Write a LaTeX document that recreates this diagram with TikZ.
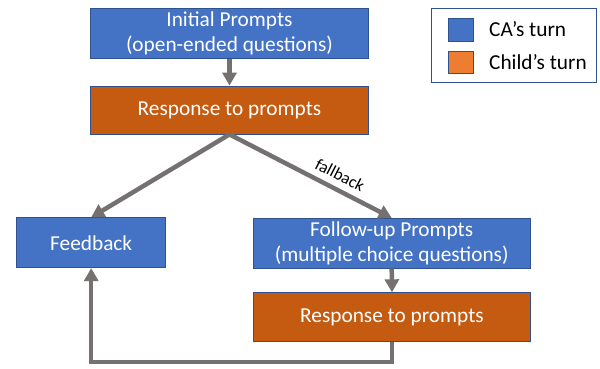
\documentclass[tikz,border=0pt]{standalone}
\usepackage{fontspec}
\setmainfont{Carlito}
\usetikzlibrary{arrows.meta}
\definecolor{cablue}{HTML}{4472C4}
\definecolor{chorange}{HTML}{C55A11}
\definecolor{legorange}{HTML}{ED7D31}
\definecolor{edgeblue}{HTML}{2F528F}
\definecolor{arrowgray}{HTML}{767171}
\begin{document}
\begin{tikzpicture}[x=1pt,y=-1pt,
  box/.style={draw=edgeblue,line width=0.8pt,text=white,align=center,
    inner sep=0pt,font=\fontsize{21.3}{25}\selectfont},
  cabox/.style={box,fill=cablue},
  childbox/.style={box,fill=chorange},
  flow/.style={draw=arrowgray,line width=4.5pt,
    -{Triangle[width=14pt,length=13pt]}},
  legtext/.style={anchor=west,inner sep=0pt,font=\fontsize{21.3}{24}\selectfont}]
\useasboundingbox (0,0) rectangle (600,368);
\node[cabox,minimum width=277.5pt,minimum height=50pt] (init) at (229.5,33.3)
  {Initial Prompts\\(open-ended questions)};
\node[childbox,minimum width=277.5pt,minimum height=48pt] (resp1) at (229.5,110)
  {Response to prompts};
\node[cabox,minimum width=149pt,minimum height=50pt] (feed) at (91.2,242.7)
  {Feedback};
\node[cabox,minimum width=276.7pt,minimum height=50pt] (follow) at (391.7,243.3)
  {Follow-up Prompts\\(multiple choice questions)};
\node[childbox,minimum width=277pt,minimum height=49pt] (resp2) at (392,317.2)
  {Response to prompts};
% legend
\node[draw=edgeblue,line width=0.8pt,fill=white,minimum width=165pt,minimum height=74.4pt,inner sep=0pt]
  (legend) at (514.2,45.5) {};
\node[draw=edgeblue,line width=0.8pt,fill=cablue,minimum width=25pt,minimum height=23pt,inner sep=0pt]
  (sqa) at (460.5,29.5) {};
\node[draw=edgeblue,line width=0.8pt,fill=legorange,minimum width=25pt,minimum height=22pt,inner sep=0pt]
  (sqb) at (460.5,62) {};
\node[legtext] (la) at (489,29.5) {CA’s turn};
\node[legtext] (lb) at (489,62) {Child’s turn};
% connectors
\draw[flow] (init.south) -- (resp1.north);
\draw[flow] (resp1.south) -- (feed.north);
\draw[flow] (resp1.south) -- node[pos=0.64,sloped,above=3pt,font=\fontsize{17}{20}\selectfont,text=black] (fb) {fallback} (follow.north);
\draw[flow] (follow.south) -- (resp2.north);
\coordinate (bend) at (392,362);
\draw[flow] (resp2.south) -- (bend) -| (feed.south);
\end{tikzpicture}
\end{document}
